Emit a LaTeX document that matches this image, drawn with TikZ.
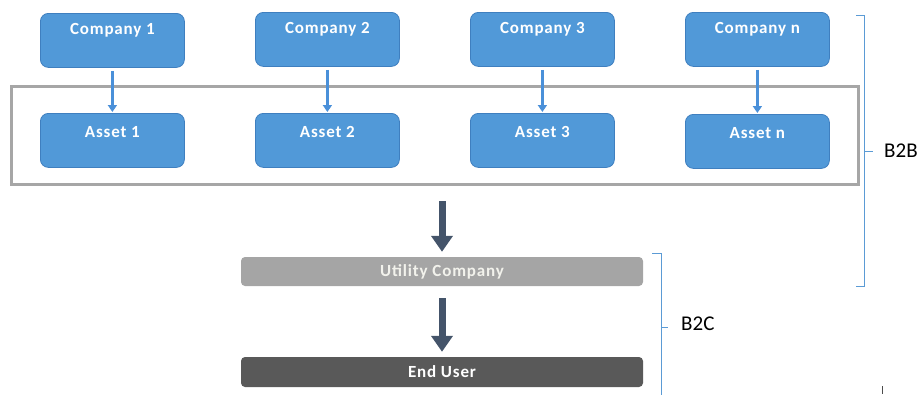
\documentclass[tikz,border=0pt]{standalone}
\usepackage{fontspec}
\setmainfont{Carlito}
\newfontfamily\boxfont[LetterSpace=5]{Carlito}
\usetikzlibrary{arrows.meta}

\definecolor{boxblue}{HTML}{5199D8}
\definecolor{boxedge}{HTML}{3F7FBF}
\definecolor{flowblue}{HTML}{4A90D9}
\definecolor{framegray}{HTML}{A6A6A6}
\definecolor{slate}{HTML}{44546A}
\definecolor{utilgray}{HTML}{A5A5A5}
\definecolor{utiltext}{HTML}{F2F2EC}
\definecolor{usergray}{HTML}{595959}
\definecolor{bracketblue}{HTML}{5B9BD5}

\begin{document}
\begin{tikzpicture}[x=1pt,y=-1pt,
  entity/.style={draw=boxedge, line width=0.8pt, fill=boxblue, rounded corners=8pt,
    minimum width=144pt, inner sep=0pt, text=white, anchor=north west,
    font=\boxfont\bfseries\fontsize{17}{20}\selectfont},
  company/.style={entity, text height=21pt, text depth=33pt},
  asset/.style={entity, text height=24pt, text depth=30pt},
  flow/.style={draw=flowblue, line width=2.4pt, shorten <=3pt, shorten >=1pt,
    -{Triangle[width=9pt,length=7pt]}},
  bigflow/.style={draw=slate, line width=7pt,
    -{Triangle[width=21pt,length=16pt]}},
  stage/.style={rounded corners=4pt, inner sep=0pt, minimum width=402pt,
    font=\boxfont\bfseries\fontsize{17}{20}\selectfont},
  bracket/.style={draw=bracketblue, line width=1pt},
  scope label/.style={anchor=west, inner sep=0pt, font=\fontsize{21}{24}\selectfont}
]
\useasboundingbox (0,0) rectangle (922,394);

% B2B frame around the assets
\node[draw=framegray, line width=3pt, minimum width=847pt, minimum height=98pt,
      inner sep=0pt, anchor=north west] (frame) at (10,85) {};

% companies
\node[company] (c1) at (40,13)  {Company 1};
\node[company] (c2) at (255,12) {Company 2};
\node[company] (c3) at (470,12) {Company 3};
\node[company] (cn) at (685,12) {Company n};

% assets
\node[asset] (a1) at (40,113)  {Asset 1};
\node[asset] (a2) at (255,113) {Asset 2};
\node[asset] (a3) at (470,113) {Asset 3};
\node[asset] (an) at (685,114) {Asset n};

\draw[flow] (c1.south) -- (a1.north);
\draw[flow] (c2.south) -- (a2.north);
\draw[flow] (c3.south) -- (a3.north);
\draw[flow] (cn.south) -- (an.north);

% B2C chain
\node[stage, fill=utilgray, text=utiltext, minimum height=29pt] (util) at (442,271.5) {Utility Company};
\node[stage, fill=usergray, text=white, minimum height=30pt] (user) at (442,372) {End User};

\draw[bigflow, shorten <=15pt, shorten >=5pt] (frame.south -| util.north) -- (util.north);
\draw[bigflow, shorten <=12pt, shorten >=5pt] (util.south) -- (user.north);

% scope brackets
\draw[bracket] (856,15.5) -- (864,15.5) -- (864,286) -- (856,286);
\draw[bracket] (864,151) -- (873,151);
\node[scope label] (b2b) at (884,151) {B2B};

\draw[bracket] (652,253) -- (661,253) -- (661,395);
\draw[bracket] (661,327) -- (668,327);
\node[scope label] (b2c) at (681,324) {B2C};

\draw[black!70, line width=0.8pt] (882,386) -- (882,394);
\end{tikzpicture}
\end{document}
